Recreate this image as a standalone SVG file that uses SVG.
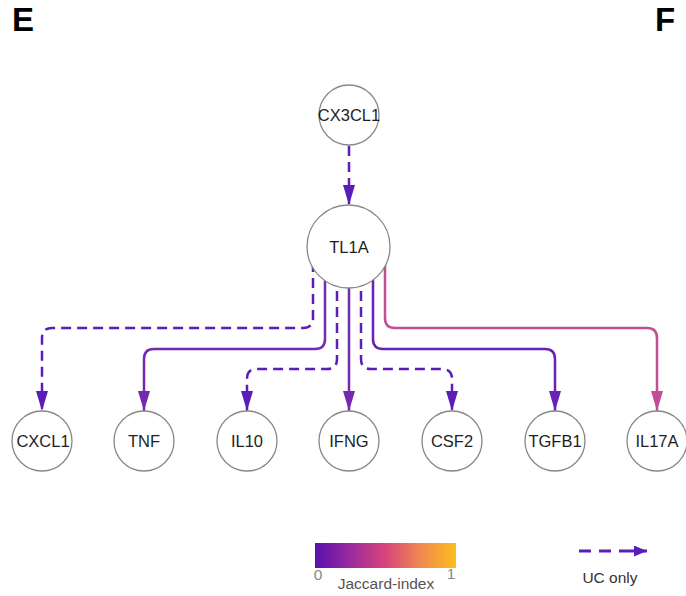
<svg xmlns="http://www.w3.org/2000/svg" width="686" height="596" viewBox="0 0 686 596">
  <defs>
    <linearGradient id="jaccard" x1="0" y1="0" x2="1" y2="0">
      <stop offset="0" stop-color="#5a10ae"/>
      <stop offset="0.25" stop-color="#9a2a9e"/>
      <stop offset="0.5" stop-color="#d8457c"/>
      <stop offset="0.75" stop-color="#f08a50"/>
      <stop offset="1" stop-color="#fdbd1c"/>
    </linearGradient>
    <marker id="ah-uc" markerUnits="userSpaceOnUse" markerWidth="20" markerHeight="12" refX="20" refY="6" orient="auto">
      <path d="M0,0 L20,6 L0,12 Z" fill="#5b1db8"/>
    </marker>
    <marker id="ah-p1" markerUnits="userSpaceOnUse" markerWidth="20" markerHeight="12" refX="20" refY="6" orient="auto">
      <path d="M0,0 L20,6 L0,12 Z" fill="#7429b0"/>
    </marker>
    <marker id="ah-p2" markerUnits="userSpaceOnUse" markerWidth="20" markerHeight="12" refX="20" refY="6" orient="auto">
      <path d="M0,0 L20,6 L0,12 Z" fill="#6a21b6"/>
    </marker>
    <marker id="ah-pink" markerUnits="userSpaceOnUse" markerWidth="20" markerHeight="12" refX="20" refY="6" orient="auto">
      <path d="M0,0 L20,6 L0,12 Z" fill="#c04f94"/>
    </marker>
    <marker id="ah-legend" markerUnits="userSpaceOnUse" markerWidth="13" markerHeight="11" refX="13" refY="5.5" orient="auto">
      <path d="M0,0 L13,5.5 L0,11 Z" fill="#5b1db8"/>
    </marker>
  </defs>
  <style>
    .edge { fill: none; stroke-width: 2.5; }
    .uc { stroke: #5b1db8; stroke-dasharray: 10 6; }
    .node circle { fill: #ffffff; stroke: #888888; stroke-width: 1.3; }
    .node text { font-family: "Liberation Sans", Arial, sans-serif; font-size: 16.5px; fill: #1e1e1e; text-anchor: middle; }
    .panel { font-family: "Liberation Sans", Arial, sans-serif; font-size: 33px; font-weight: bold; fill: #000000; }
    .legend { font-family: "Liberation Sans", Arial, sans-serif; font-size: 15.5px; }
  </style>

  <rect width="686" height="596" fill="#ffffff"/>

  <text class="panel" x="12" y="31">E</text>
  <text class="panel" x="655" y="31">F</text>

  <!-- connectors -->
  <g id="edges">
    <path class="edge uc" d="M349,146 V205" marker-end="url(#ah-uc)"/>
    <path class="edge uc" d="M313,262 V318 Q313,328 303,328 H52 Q42,328 42,338 V411" marker-end="url(#ah-uc)"/>
    <path class="edge" stroke="#7429b0" d="M325,270 V339 Q325,349 315,349 H154 Q144,349 144,359 V411" marker-end="url(#ah-p1)"/>
    <path class="edge uc" d="M337,275 V359 Q337,369 327,369 H257 Q247,369 247,379 V411" marker-end="url(#ah-uc)"/>
    <path class="edge" stroke="#7429b0" d="M349,280 V411" marker-end="url(#ah-p1)"/>
    <path class="edge uc" d="M361,275 V359 Q361,369 371,369 H442 Q452,369 452,379 V411" marker-end="url(#ah-uc)"/>
    <path class="edge" stroke="#6a21b6" d="M373,270 V339 Q373,349 383,349 H545 Q555,349 555,359 V411" marker-end="url(#ah-p2)"/>
    <path class="edge" stroke="#c04f94" d="M385,262 V318 Q385,328 395,328 H647 Q657,328 657,338 V411" marker-end="url(#ah-pink)"/>
  </g>

  <!-- nodes -->
  <g id="CX3CL1" class="node">
    <circle cx="349" cy="115" r="30"/>
    <text x="349" y="121">CX3CL1</text>
  </g>
  <g id="TL1A" class="node">
    <circle cx="348.5" cy="246.5" r="41.5"/>
    <text x="349" y="252.5">TL1A</text>
  </g>
  <g id="CXCL1" class="node">
    <circle cx="42" cy="441" r="30"/>
    <text x="43" y="447">CXCL1</text>
  </g>
  <g id="TNF" class="node">
    <circle cx="144" cy="441" r="30"/>
    <text x="144" y="447">TNF</text>
  </g>
  <g id="IL10" class="node">
    <circle cx="247" cy="441" r="30"/>
    <text x="247" y="447">IL10</text>
  </g>
  <g id="IFNG" class="node">
    <circle cx="349" cy="441" r="30"/>
    <text x="349" y="447">IFNG</text>
  </g>
  <g id="CSF2" class="node">
    <circle cx="452" cy="441" r="30"/>
    <text x="452" y="447">CSF2</text>
  </g>
  <g id="TGFB1" class="node">
    <circle cx="555" cy="441" r="30"/>
    <text x="555" y="447">TGFB1</text>
  </g>
  <g id="IL17A" class="node">
    <circle cx="657" cy="441" r="30"/>
    <text x="657" y="447">IL17A</text>
  </g>

  <!-- colour scale legend -->
  <g id="legend-scale">
    <rect x="315" y="543" width="141" height="25" fill="url(#jaccard)"/>
    <text class="legend" x="318" y="580" fill="#888888" text-anchor="middle" font-size="14">0</text>
    <text class="legend" x="451" y="579" fill="#888888" text-anchor="middle" font-size="14">1</text>
    <text class="legend" x="386" y="589" fill="#555555" text-anchor="middle">Jaccard-index</text>
  </g>

  <!-- dashed-edge legend -->
  <g id="legend-uc">
    <path d="M579,551 H647" fill="none" stroke="#5b1db8" stroke-width="3" stroke-dasharray="12 8 12 8 40" marker-end="url(#ah-legend)"/>
    <text class="legend" x="610" y="583" fill="#333333" text-anchor="middle">UC only</text>
  </g>
</svg>
